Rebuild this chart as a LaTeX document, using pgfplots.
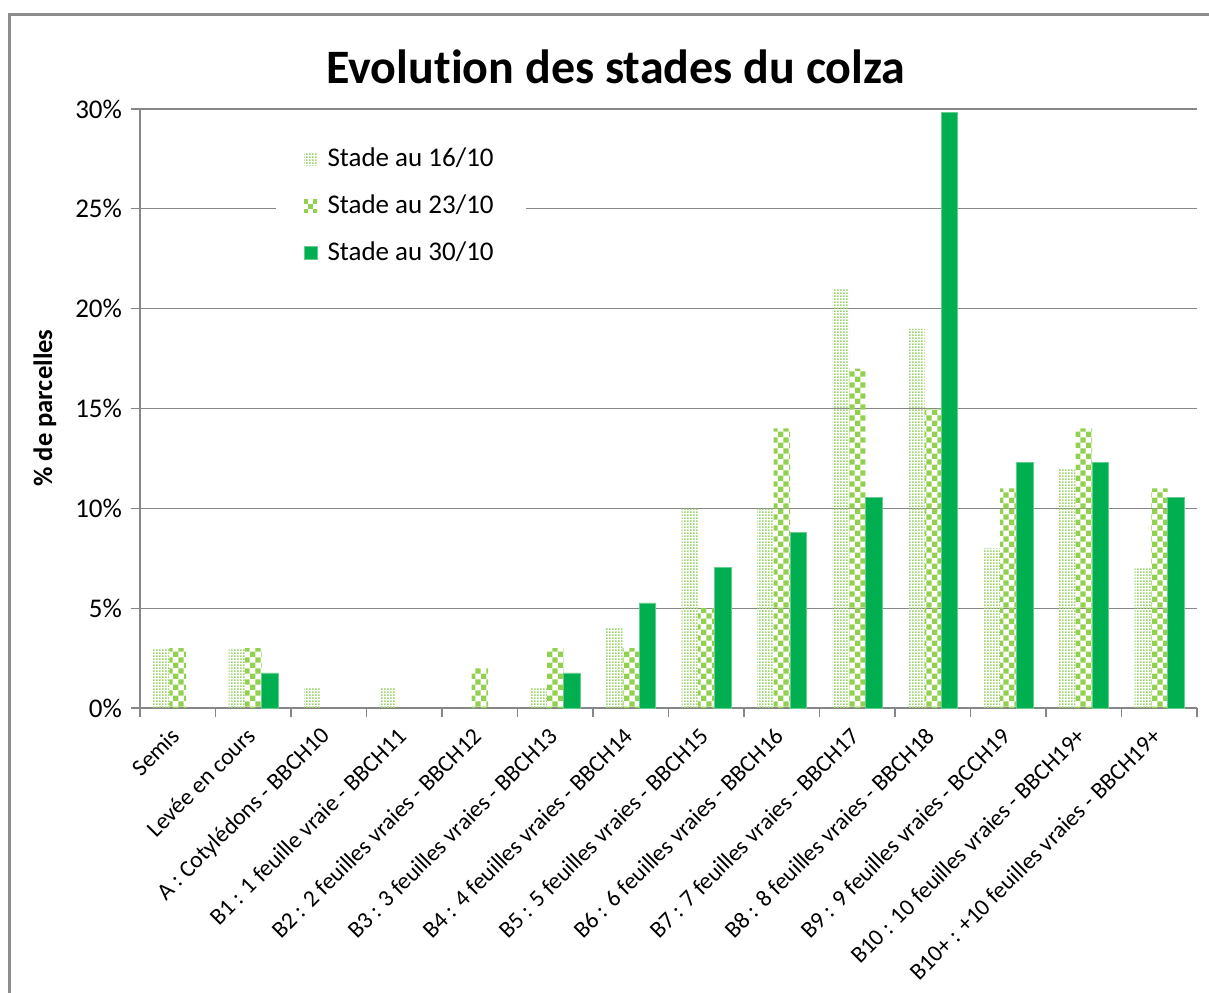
\documentclass[border=0pt]{standalone}
\usepackage{pgfplots}
\pgfplotsset{compat=1.18}
\usepackage{fontspec}
\setmainfont{Carlito}[Ligatures=NoCommon]
\usetikzlibrary{patterns.meta}
\definecolor{chkgreen}{HTML}{92D050}
\definecolor{dotgreen}{HTML}{99D46A}
\definecolor{solgreen}{HTML}{00B050}
\definecolor{soledge}{HTML}{66CC8F}
\definecolor{axgray}{HTML}{868686}
\definecolor{framegray}{HTML}{8C8C8C}
\tikzdeclarepattern{
  name=chk,
  type=uncolored,
  bounding box={(0pt,0pt) and (5.4pt,5.4pt)},
  tile size={(5.4pt,5.4pt)},
  code={
    \fill (0pt,0pt) rectangle (2.7pt,2.7pt);
    \fill (2.7pt,2.7pt) rectangle (5.4pt,5.4pt);
  }
}
\tikzdeclarepattern{
  name=dotp,
  type=uncolored,
  bounding box={(0pt,0pt) and (1.5pt,1.5pt)},
  tile size={(1.5pt,1.5pt)},
  code={
    \fill (0pt,0pt) rectangle (1pt,1pt);
  }
}
\begin{document}
\begin{tikzpicture}
\path[use as bounding box] (0pt,0pt) rectangle (604.5pt,496pt);
\draw[framegray, line width=1.5pt] (4.5pt,-5pt) -- (4.5pt,488.5pt) -- (610pt,488.5pt);
\node[font=\fontsize{24}{28}\selectfont\bfseries] at (308pt,462.5pt) {Evolution des stades du colza};
\node[font=\fontsize{13.3}{16}\selectfont\bfseries, rotate=90] at (22.5pt,292pt) {\% de parcelles};
\begin{axis}[
  at={(70pt,142pt)}, anchor=south west,
  scale only axis,
  width=528.5pt, height=299.5pt,
  ybar=0pt, bar width=8.25pt,
  xmin=-0.5, xmax=13.5,
  ymin=0, ymax=30,
  axis x line*=bottom, axis y line*=left,
  axis line style={axgray, line width=0.6pt},
  ymajorgrids, grid style={axgray, line width=0.6pt},
  ytick={0,5,...,30},
  yticklabel={\pgfmathprintnumber{\tick}\%},
  /pgf/number format/assume math mode=true,
  tick align=outside, major tick length=4.5pt,
  tick style={axgray, line width=0.6pt},
  xtick={-0.5,0.5,...,13.5}, xticklabels={},
  extra x ticks={0,1,2,3,4,5,6,7,8,9,10,11,12,13},
  extra x tick labels={Semis, Levée en cours, A : Cotylédons - BBCH10, B1 : 1 feuille vraie - BBCH11, B2 : 2 feuilles vraies - BBCH12, B3 : 3 feuilles vraies - BBCH13, B4 : 4 feuilles vraies - BBCH14, B5 : 5 feuilles vraies - BBCH15, B6 : 6 feuilles vraies - BBCH16, B7 : 7 feuilles vraies - BBCH17, B8 : 8 feuilles vraies - BBCH18, B9 : 9 feuilles vraies - BCCH19, B10 : 10 feuilles vraies - BBCH19+, B10+ : +10 feuilles vraies - BBCH19+},
  extra x tick style={major tick length=0pt, grid=none,
    xticklabel style={font=\fontsize{11.8}{14}\selectfont, xshift=-1pt, yshift=-12pt, rotate=45, anchor=east, inner sep=0pt}},
  yticklabel style={font=\fontsize{13.5}{16}\selectfont, xshift=-1pt},
  legend style={at={(0.128,0.962)}, anchor=north west, fill=white, draw=none,
    font=\fontsize{13.5}{16}\selectfont, row sep=8.6pt, inner xsep=14pt, inner ysep=6pt,
    cells={anchor=west}, /tikz/every odd column/.append style={column sep=3pt}},
  legend image code/.code={\fill[#1] (0pt,-3.25pt) rectangle (6.5pt,3.25pt);},
]
\addplot[draw=none, pattern=dotp, pattern color=dotgreen] coordinates {
  (0,3) (1,3) (2,1) (3,1) (5,1) (6,4) (7,10) (8,10) (9,21) (10,19) (11,8) (12,12) (13,7)};
\addplot[draw=none, pattern=chk, pattern color=chkgreen] coordinates {
  (0,3) (1,3) (4,2) (5,3) (6,3) (7,5) (8,14) (9,17) (10,15) (11,11) (12,14) (13,11)};
\addplot[draw=soledge, line width=0.4pt, fill=solgreen] coordinates {
  (1,1.754) (5,1.754) (6,5.263) (7,7.018) (8,8.772) (9,10.526) (10,29.825) (11,12.281) (12,12.281) (13,10.526)};
\legend{Stade au 16/10, Stade au 23/10, Stade au 30/10}
\end{axis}
\end{tikzpicture}
\end{document}
